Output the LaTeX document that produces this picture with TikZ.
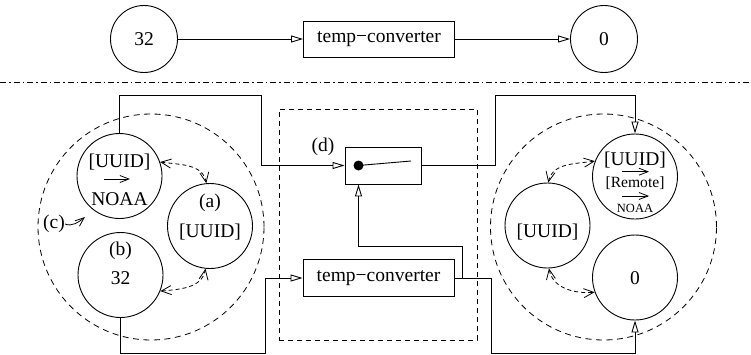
\documentclass[tikz,border=0pt]{standalone}
\usepackage{fontspec}
\setmainfont{Liberation Serif}
\usetikzlibrary{arrows.meta}
\begin{document}
\begin{tikzpicture}[x=1pt,y=1pt,
  font=\fontsize{19.5}{22}\selectfont,
  lw/.style={line width=0.9pt},
  circ/.style={circle, draw, line width=0.9pt, inner sep=0pt},
  topc/.style={circ, minimum size=67pt},
  smc/.style={circ, minimum size=85pt},
  box/.style={draw, line width=0.9pt, minimum width=151pt, minimum height=37pt, inner sep=0pt},
  txt/.style={inner sep=0pt},
  conn/.style={line width=0.9pt, -{Triangle[open,length=12pt,width=7pt]}},
  dconn/.style={line width=0.8pt, dash pattern=on 4pt off 3pt, {Straight Barb[length=10pt,width=9pt]}-{Straight Barb[length=10pt,width=9pt]}},
  dcirc/.style={circle, draw, line width=0.8pt, dash pattern=on 6pt off 4.5pt, minimum size=226pt, inner sep=0pt},
  inarrow/.style={line width=0.8pt, -{Straight Barb[length=9pt,width=7pt]}},
]
\fill[white] (0,0) rectangle (751,354);
\useasboundingbox (0,0) rectangle (751,354);

% top row
\node[topc] (c32) at (144,315) {32};
\node[box, minimum height=36pt] (tc1) at (379,315) {temp−converter};
\node[topc] (c0) at (604,315) {0};
\draw[conn] (c32) -- (tc1);
\draw[conn] (tc1) -- (c0);

% separator
\coordinate (dl) at (0,271.5);
\coordinate (dr) at (751,271.5);
\draw[line width=0.8pt, dash pattern=on 6pt off 3pt on 1.5pt off 3pt] (dl) -- (dr);

% left cluster
\node[dcirc] (bigL) at (151,127) {};
\node[smc] (n1) at (119.5,178) {};
\node[smc] (na) at (210,128) {};
\node[smc] (nb) at (120.5,79) {};
\node[txt] (n1t) at (119.5,192) {[UUID]};
\coordinate (n1a1) at (104,175);
\coordinate (n1a2) at (130,175);
\draw[inarrow] (n1a1) -- (n1a2);
\node[txt] (n1b) at (119.5,155) {NOAA};
\node[txt] (nat) at (210,151) {(a)};
\node[txt] (nab) at (210,122) {[UUID]};
\node[txt] (nbt) at (120.5,103) {(b)};
\node[txt] (nbb) at (120.5,76) {32};
\node[txt] (clab) at (54,130) {(c)};
\coordinate (cend) at (85,137);
\draw[inarrow] (clab.east) .. controls +(7,-3) and +(-6,-5) .. (cend);
\draw[dconn] (n1.19) to[out=-8, in=100] (na.95);
\draw[dconn] (nb.-22) to[out=5, in=-100] (na.-96);

% right cluster
\node[dcirc] (bigR) at (603.5,127) {};
\node[smc] (nr) at (635,177.5) {};
\node[smc] (nu) at (547.5,128.5) {};
\node[smc] (n0) at (635,76.5) {};
\node[txt] (nrt) at (635,194) {[UUID]};
\coordinate (nra1) at (622,182.3);
\coordinate (nra2) at (649,182.3);
\draw[inarrow] (nra1) -- (nra2);
\node[txt, font=\fontsize{15.6}{18}\selectfont] (nrm) at (635,171) {[Remote]};
\coordinate (nrb1) at (622,158);
\coordinate (nrb2) at (649,158);
\draw[inarrow] (nrb1) -- (nrb2);
\node[txt, font=\fontsize{12.5}{14}\selectfont] (nrn) at (635,146) {NOAA};
\node[txt] (nut) at (547.5,122) {[UUID]};
\node[txt] (n0t) at (635,76) {0};
\draw[dconn] (nr.159) to[out=188, in=78] (nu.89);
\draw[dconn] (nu.-88) to[out=-80, in=185] (n0.200);

% centre
\node[draw, line width=0.8pt, dash pattern=on 5pt off 4pt, minimum width=198pt, minimum height=231pt] (drect) at (378,129.5) {};
\node[draw, lw, minimum width=76pt, minimum height=37pt] (sw) at (383,188.5) {};
\node[circle, fill, inner sep=0pt, minimum size=10pt] (dot) at (358.5,188.5) {};
\coordinate (swe) at (411,193);
\draw[lw] (dot.center) -- (swe);
\node[txt] (dlab) at (323,207) {(d)};
\node[box] (tc2) at (378.5,76) {temp−converter};

% connectors
\coordinate (tl) at (261,259);
\coordinate (bl) at (265,1);
\coordinate (br) at (491,1);
\coordinate (tr) at (495,259);
\coordinate (bm) at (358.5,108);
\draw[conn] (n1.north) |- (tl) |- (sw.west);
\draw[conn] (nb.south) |- (bl) |- (tc2.west);
\draw[conn] (tc2.east) -| (br) -| (n0.south);
\draw[conn] ([xshift=8pt]tc2.east) |- (bm) -- (bm |- sw.south);
\draw[conn] (sw.east) -| (tr) -| (nr.north);
\end{tikzpicture}
\end{document}
